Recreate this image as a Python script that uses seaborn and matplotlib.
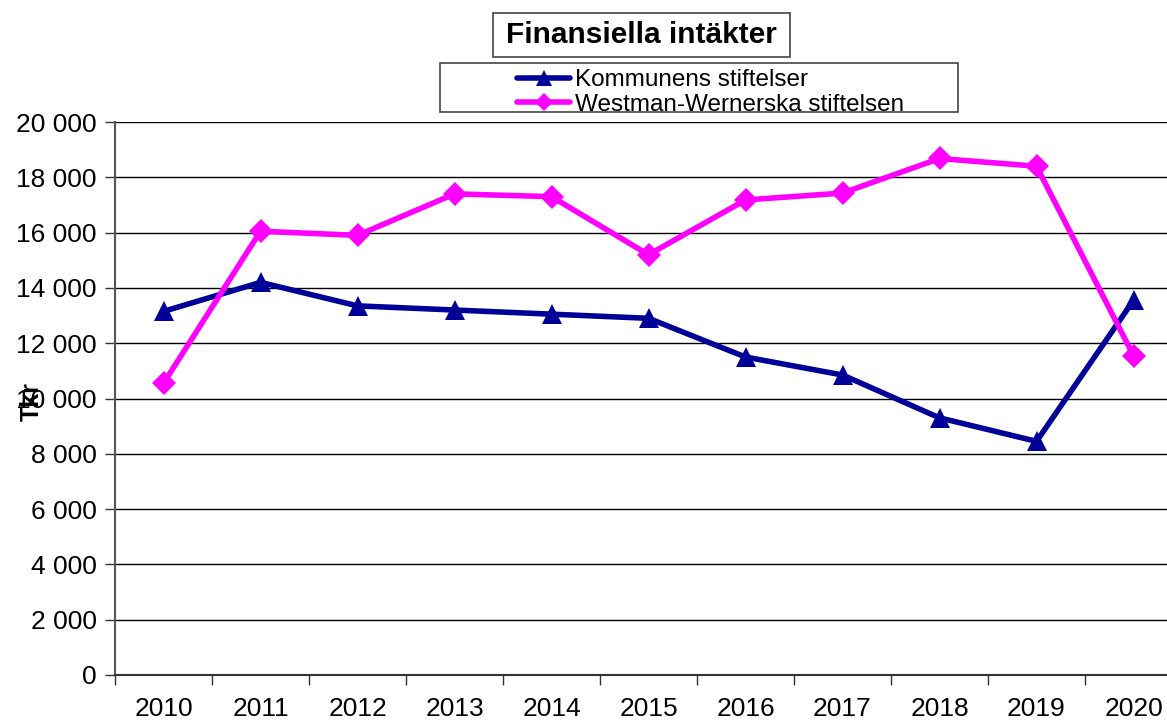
import pandas as pd
import matplotlib.pyplot as plt
import seaborn as sns
from matplotlib.lines import Line2D
from matplotlib.patches import Rectangle
from matplotlib.ticker import FuncFormatter, FixedLocator

# values (Tkr)
years = [2010, 2011, 2012, 2013, 2014, 2015, 2016, 2017, 2018, 2019, 2020]
kommunens = [13150, 14200, 13350, 13200, 13050, 12900, 11500, 10850, 9300, 8450, 13550]
westman = [10550, 16050, 15900, 17400, 17300, 15200, 17180, 17430, 18680, 18400, 11550]

series_names = ['Kommunens stiftelser', 'Westman-Wernerska stiftelsen']
colors = {'Kommunens stiftelser': '#000099', 'Westman-Wernerska stiftelsen': '#FF00FF'}
markers = {'Kommunens stiftelser': '^', 'Westman-Wernerska stiftelsen': 'D'}
sizes = {'Kommunens stiftelser': 15, 'Westman-Wernerska stiftelsen': 12}

df = pd.DataFrame({
    'År': years * 2,
    'Tkr': kommunens + westman,
    'Serie': [series_names[0]] * len(years) + [series_names[1]] * len(years),
})

sns.set_theme(style='white')
plt.rcParams['font.family'] = ['Liberation Sans', 'DejaVu Sans']
plt.rcParams['text.color'] = 'black'

W, H = 1167, 722
fig = plt.figure(figsize=(W / 100, H / 100), dpi=100)
ax = fig.add_axes([115 / W, 1 - 675 / H, 1067 / W, 553 / H])

for name in series_names:
    sns.lineplot(data=df[df['Serie'] == name], x='År', y='Tkr', color=colors[name],
                 marker=markers[name], markersize=sizes[name], markeredgewidth=0,
                 linewidth=4, ax=ax, legend=False, zorder=3)

# axes, grid and ticks
ax.set_ylim(0, 20000)
ax.set_xlim(2009.5, 2020.5)
ax.set_yticks(range(0, 20001, 2000))
ax.yaxis.set_major_formatter(FuncFormatter(lambda v, p: f'{int(v):,}'.replace(',', ' ')))
ax.grid(axis='y', color='black', linewidth=1)
ax.set_axisbelow(True)

ax.xaxis.set_major_locator(FixedLocator([y - 0.5 for y in years] + [2020.5]))
ax.xaxis.set_minor_locator(FixedLocator(years))
ax.set_xticklabels([])
ax.set_xticklabels([str(y) for y in years], minor=True)
ax.tick_params(axis='x', which='major', length=7, width=1, color='#333333', direction='out', bottom=True)
ax.tick_params(axis='x', which='minor', length=0, pad=16, labelsize=19, labelcolor='black')
ax.tick_params(axis='y', length=7, width=1, color='#333333', direction='out', left=True,
               labelsize=19, pad=6, labelcolor='black')

ax.set_xlabel('')
ax.set_ylabel('')
for side in ['top', 'right']:
    ax.spines[side].set_visible(False)
ax.spines['left'].set_color('#555555')
ax.spines['left'].set_linewidth(1.5)
ax.spines['bottom'].set_color('#333333')
ax.spines['bottom'].set_linewidth(1.5)

fig.text(32 / W, 1 - 402 / H, 'Tkr', rotation=90, ha='center', va='center',
         fontsize=18, fontweight='bold', color='black')

# title in a box
fig.patches.append(Rectangle((493 / W, 1 - 57 / H), 297 / W, 44 / H, transform=fig.transFigure,
                             facecolor='white', edgecolor='#444444', linewidth=1.2))
fig.text(641 / W, 1 - 35 / H, 'Finansiella intäkter', ha='center', va='center',
         fontsize=21.5, fontweight='bold', color='black')

# legend in a box
fig.patches.append(Rectangle((440 / W, 1 - 112 / H), 518 / W, 49 / H, transform=fig.transFigure,
                             facecolor='white', edgecolor='#444444', linewidth=1.2))
handles = [Line2D([], [], color=colors[n], marker=markers[n], markersize=sizes[n] * 0.75,
                  markeredgewidth=0, linewidth=4) for n in series_names]
leg = fig.legend(handles, series_names, loc='upper left', bbox_to_anchor=(500 / W, 1 - 52 / H),
                 frameon=False, fontsize=17.5, handlelength=2.2, handletextpad=0.2,
                 labelspacing=0.12, borderpad=0.2)
for t in leg.get_texts():
    t.set_color('black')

plt.savefig('out.png', dpi=100)
plt.close()
